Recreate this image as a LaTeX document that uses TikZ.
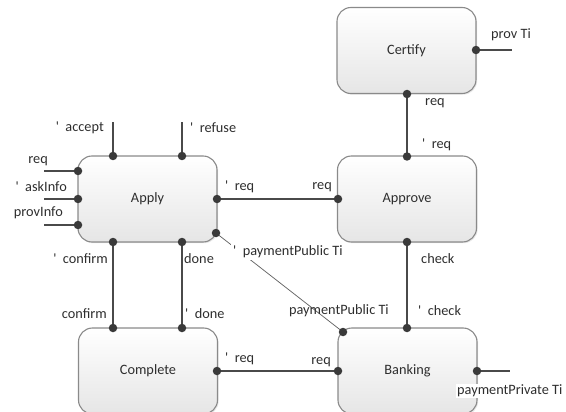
\documentclass[tikz,border=0pt]{standalone}
\usepackage{fontspec}
\newfontfamily\calib{Carlito}
\usetikzlibrary{shadows}
\definecolor{lin}{HTML}{4A4A4A}
\definecolor{prt}{HTML}{3A3A3A}
\definecolor{bord}{HTML}{8A8A8A}
\definecolor{txt}{HTML}{2E2E2E}
\newcommand\tk{'\hspace{0.45em}}
\tikzset{
  comp/.style={draw=bord, line width=1.1pt, rounded corners=14pt, minimum width=139pt, minimum height=86pt,
    top color=white, bottom color=black!10, drop shadow={opacity=0.18, shadow xshift=1.2pt, shadow yshift=-1.2pt},
    font=\calib\fontsize{14.3}{16}\selectfont, text=txt, inner sep=0pt},
  port/.style={circle, fill=prt, inner sep=0pt, minimum size=8.5pt},
  wire/.style={draw=lin, line width=1.05pt},
  thin/.style={draw=lin!85, line width=0.75pt},
  lab/.style={font=\calib\fontsize{14.3}{16}\selectfont, text=txt, inner sep=0pt},
}
\begin{document}
\begin{tikzpicture}[x=1pt,y=-1pt]
\useasboundingbox (0,0) rectangle (566,412);
\clip (0,0) rectangle (566,412);
% components
\node[comp] (apply) at (147.5,199) {Apply};
\node[comp] (approve) at (407,199) {Approve};
\node[comp] (certify) at (406.5,50.5) {Certify};
\node[comp] (complete) at (148,371) {Complete};
\node[comp] (banking) at (407.5,371) {Banking};
% free ends
\coordinate (eacc) at (113,122);
\coordinate (eref) at (182,122);
\coordinate (ereq) at (44,171);
\coordinate (eask) at (44,199);
\coordinate (eprov) at (44,225);
\coordinate (ecert) at (512,50);
\coordinate (ebank) at (510,371);
% ports
\path
 (113,156) coordinate (at1) (182,156) coordinate (at2)
 (78,171) coordinate (al1) (78,199) coordinate (al2) (78,225) coordinate (al3)
 (217,199) coordinate (ar) (216,233) coordinate (abr)
 (113,242) coordinate (ab1) (182,242) coordinate (ab2)
 (407,156.5) coordinate (pt) (338,199) coordinate (pl) (407,242) coordinate (pb)
 (476,50) coordinate (cr) (407,94) coordinate (cb)
 (113,328) coordinate (mt1) (182,328) coordinate (mt2) (217,371) coordinate (mr)
 (407,328) coordinate (bt) (343,332) coordinate (btl) (338,371) coordinate (bl) (477,371) coordinate (br);
% wires
\draw[wire] (at1) -- (eacc);
\draw[wire] (at2) -- (eref);
\draw[wire] (al1) -- (ereq);
\draw[wire] (al2) -- (eask);
\draw[wire] (al3) -- (eprov);
\draw[wire] (ar) -- (pl);
\draw[wire] (cb) -- (pt);
\draw[wire] (cr) -- (ecert);
\draw[wire] (pb) -- (bt);
\draw[wire] (ab1) -- (mt1);
\draw[wire] (ab2) -- (mt2);
\draw[wire] (mr) -- (bl);
\draw[wire] (br) -- (ebank);
\draw[thin] (abr) -- (btl);
% port dots
\foreach \p in {at1,at2,al1,al2,al3,ar,abr,ab1,ab2,pt,pl,pb,cr,cb,mt1,mt2,mr,bt,btl,bl,br}
  \node[port] (d\p) at (\p) {};
% labels
\node[lab, anchor=east] (l1) at (104,128) {\tk accept};
\node[lab, anchor=west] (l2) at (190,128) {\tk refuse};
\node[lab, anchor=east] (l3) at (48,161) {req};
\node[lab, anchor=east] (l4) at (67,187) {\tk askInfo};
\node[lab, anchor=east] (l5) at (63,213) {provInfo};
\node[lab, anchor=west] (l6) at (225,187) {\tk req};
\node[lab, anchor=east] (l7) at (332,187) {req};
\node[lab, anchor=west, fill=white, inner sep=2pt] (l8) at (231,252) {\tk paymentPublic Ti};
\node[lab, anchor=east] (l9) at (108,259) {\tk confirm};
\node[lab, anchor=west] (l10) at (184,259) {done};
\node[lab, anchor=east] (l11) at (107,314) {confirm};
\node[lab, anchor=west] (l12) at (185,314) {\tk done};
\node[lab, anchor=west] (l13) at (225,359) {\tk req};
\node[lab, anchor=east] (l14) at (331,362) {req};
\node[lab, anchor=east] (l15) at (389,311) {paymentPublic Ti};
\node[lab, anchor=west] (l16) at (421,259) {check};
\node[lab, anchor=west] (l17) at (418,311) {\tk check};
\node[lab, anchor=west, fill=white, inner sep=1pt] (l18) at (456,391) {paymentPrivate Ti};
\node[lab, anchor=west] (l19) at (491,35) {prov Ti};
\node[lab, anchor=west] (l20) at (425,103) {req};
\node[lab, anchor=west] (l21) at (422,145) {\tk req};
\end{tikzpicture}
\end{document}
